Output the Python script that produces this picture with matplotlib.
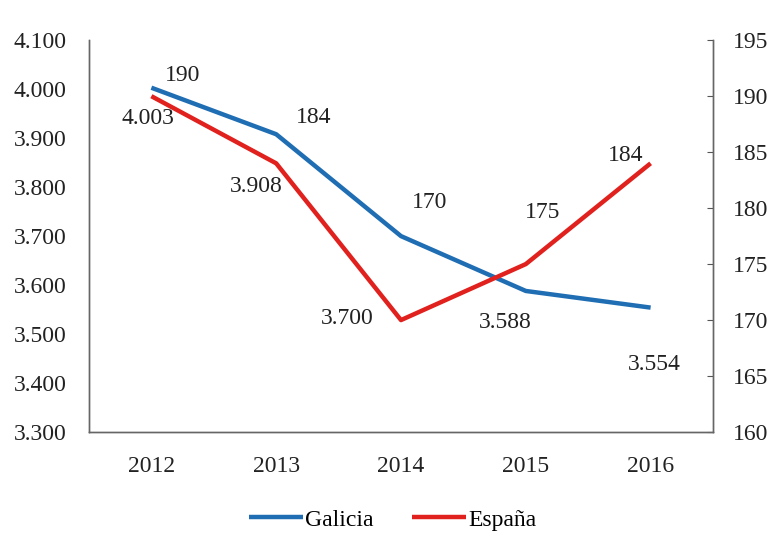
import matplotlib
matplotlib.use('Agg')
import matplotlib.pyplot as plt

years = ['2012', '2013', '2014', '2015', '2016']
galicia = [4.003, 3.908, 3.700, 3.588, 3.554]
espana = [190, 184, 170, 175, 184]
galicia_txt = ['4.003', '3.908', '3.700', '3.588', '3.554']
espana_txt = ['190', '184', '170', '175', '184']
left_ticks = [3.3, 3.4, 3.5, 3.6, 3.7, 3.8, 3.9, 4.0, 4.1]
right_ticks = [160, 165, 170, 175, 180, 185, 190, 195]

# offsets de las etiquetas en pixeles (como las deja Excel)
gal_off = [(-3, -31), (-20, -52), (-54, -82), (-21, -32), (4, -57)]
esp_off = [(31, 21), (37, 46), (29, 118), (17, 52), (-25, 8)]

plt.rcParams['font.family'] = ['Liberation Serif', 'DejaVu Serif']
fs = 17
blue = '#1f6db3'
red = '#e0211d'

fig = plt.figure(figsize=(7.71, 5.36), dpi=100)
ax = fig.add_axes([0.1154, 0.194, 0.8094, 0.731])
ax2 = ax.twinx()
x = list(range(len(years)))

l1, = ax.plot(x, galicia, color=blue, lw=3.2, solid_capstyle='butt', label='Galicia')
l2, = ax2.plot(x, espana, color=red, lw=3.2, solid_capstyle='butt', label='España')

ax.set_xlim(-0.5, 4.5)
ax.set_ylim(3.3, 4.1)
ax2.set_ylim(160, 195)
ax.set_xticks(x)
ax.set_xticklabels(years, fontsize=fs, color='#222222')
ax.set_yticks(left_ticks)
ax.set_yticklabels(['%.3f' % v for v in left_ticks], fontsize=fs, color='#222222')
ax2.set_yticks(right_ticks)
ax2.set_yticklabels([str(v) for v in right_ticks], fontsize=fs, color='#222222')

ax.tick_params(axis='x', length=0, pad=17)
ax.tick_params(axis='y', length=0, pad=16)
ax2.tick_params(axis='y', direction='in', length=4, pad=14, color='#555555')

for a in (ax, ax2):
    a.spines['top'].set_visible(False)
    for s in ('left', 'right', 'bottom'):
        a.spines[s].set_color('#666666')
        a.spines[s].set_linewidth(1.0)

for i in x:
    ax.annotate(galicia_txt[i], (i, galicia[i]), xytext=gal_off[i], textcoords='offset pixels',
                ha='center', va='center', fontsize=fs, color='#222222')
    ax2.annotate(espana_txt[i], (i, espana[i]), xytext=esp_off[i], textcoords='offset pixels',
                 ha='center', va='center', fontsize=fs, color='#222222')

fig.legend([l1, l2], ['Galicia', 'España'], loc='center', bbox_to_anchor=(0.509, 0.03),
           ncol=2, frameon=False, fontsize=fs, handlelength=2.3, handletextpad=0.1,
           columnspacing=1.6)

fig.savefig('out.png', dpi=100)
